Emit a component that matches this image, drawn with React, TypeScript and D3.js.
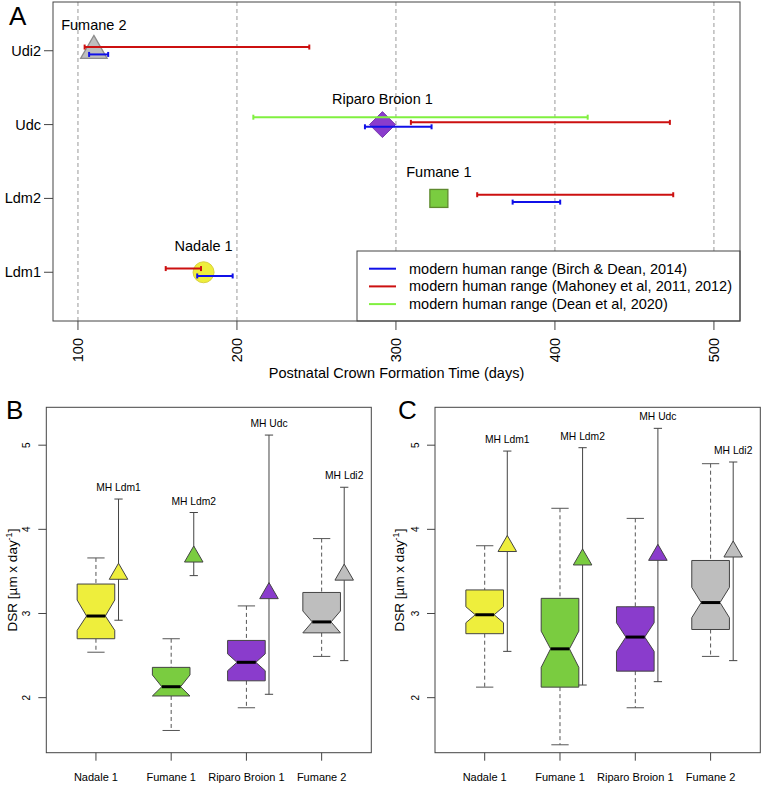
import React from "react";
import * as d3 from "d3";

// ---------- Panel A data ----------
const rowLabelsA = ["Ldm1", "Ldm2", "Udc", "Udi2"];
const specimensA = ["Nadale 1", "Fumane 1", "Riparo Broion 1", "Fumane 2"];
const crownTimeA = [179, 327, 291.5, 110];
const birchLoA = [175, 373.4, 280.5, 107];
const birchHiA = [197.3, 403.3, 322.4, 119];
const mahoneyLoA = [155.2, 351.1, 309.4, 104.2];
const mahoneyHiA = [177.4, 474.4, 472.3, 245.5];
const deanLoA = [null, null, 210.3, null];
const deanHiA = [null, null, 420.6, null];
const xTicksA = [100, 200, 300, 400, 500];
const legendA = [
  "modern human range (Birch & Dean, 2014)",
  "modern human range (Mahoney et al, 2011, 2012)",
  "modern human range (Dean et al, 2020)",
];

// ---------- Panels B & C data ----------
const groups = ["Nadale 1", "Fumane 1", "Riparo Broion 1", "Fumane 2"];
const mhLabels = ["MH Ldm1", "MH Ldm2", "MH Udc", "MH Ldi2"];
const yTicksBC = [2, 3, 4, 5];

const whiskerLoB = [2.54, 1.61, 1.88, 2.49];
const q1B = [2.7, 2.02, 2.2, 2.77];
const notchLoB = [2.8, 2.02, 2.32, 2.77];
const medB = [2.97, 2.13, 2.42, 2.9];
const notchHiB = [3.16, 2.27, 2.52, 3.03];
const q3B = [3.35, 2.36, 2.68, 3.25];
const whiskerHiB = [3.66, 2.7, 3.09, 3.89];
const mhMinB = [2.92, 3.45, 2.04, 2.44];
const mhMeanB = [3.47, 3.675, 3.24, 3.46];
const mhMaxB = [4.36, 4.2, 5.12, 4.5];

const whiskerLoC = [2.125, 1.44, 1.88, 2.49];
const q1C = [2.76, 2.125, 2.315, 2.81];
const notchLoC = [2.89, 2.36, 2.55, 2.95];
const medC = [2.985, 2.58, 2.72, 3.13];
const notchHiC = [3.08, 2.79, 2.89, 3.31];
const q3C = [3.28, 3.18, 3.08, 3.63];
const whiskerHiC = [3.805, 4.25, 4.13, 4.78];
const mhMinC = [2.55, 2.15, 2.19, 2.44];
const mhMeanC = [3.8, 3.64, 3.695, 3.735];
const mhMaxC = [4.93, 4.97, 5.2, 4.8];

const FONT = "Liberation Sans, Arial, Helvetica, sans-serif";
const fills = ["#EEEE3C", "#7ACC40", "#8A3CCC", "#BEBEBE"];
const markerStrokes = ["#D8D040", "#5E8A2E", "#7A3AB0", "#8C8C8C"];
const srcColors = ["#1010E8", "#CC1010", "#80F040"];
const AXIS = "#444";
const FS_A = 14.5;

function triPath(cx: number, cy: number, r: number) {
  const h = 0.866 * r;
  return `M${cx},${cy - r}L${cx + h},${cy + r / 2}L${cx - h},${cy + r / 2}Z`;
}

function PanelA() {
  const x = d3.scaleLinear().domain([84.3, 516.4]).range([53, 740]);
  const y = d3.scaleLinear().domain([0.34, 4.66]).range([321, 2]);
  const [x0, x1] = x.range();
  const [yb, yt] = y.range();
  const errBar = (lo: number, hi: number, yy: number, color: string, key: string) => (
    <g key={key} stroke={color} strokeWidth={2}>
      <line x1={x(lo)} x2={x(hi)} y1={yy} y2={yy} />
      <line x1={x(lo)} x2={x(lo)} y1={yy - 2.5} y2={yy + 2.5} />
      <line x1={x(hi)} x2={x(hi)} y1={yy - 2.5} y2={yy + 2.5} />
    </g>
  );
  return (
    <g>
      <text x={9} y={25} fontSize={26} fontFamily={FONT}>A</text>
      {xTicksA.map((t) => (
        <line key={"g" + t} x1={x(t)} x2={x(t)} y1={yt} y2={yb} stroke="#999" strokeDasharray="4,3" strokeWidth={1} />
      ))}
      {/* markers */}
      {rowLabelsA.map((r, i) => {
        const cx = x(crownTimeA[i]);
        const cy = y(i + 1);
        let m;
        if (i === 0) m = <circle cx={cx} cy={cy} r={10.5} fill={fills[0]} stroke={markerStrokes[0]} strokeWidth={1} />;
        else if (i === 1) m = <rect x={cx - 9} y={cy - 9} width={18} height={18} fill={fills[1]} stroke={markerStrokes[1]} strokeWidth={1.3} />;
        else if (i === 2) m = <path d={`M${cx},${cy - 13}L${cx + 13},${cy}L${cx},${cy + 13}L${cx - 13},${cy}Z`} fill={fills[2]} stroke={markerStrokes[2]} strokeWidth={1} />;
        else m = <path d={triPath(cx, cy, 15.3)} fill={fills[3]} stroke={markerStrokes[3]} strokeWidth={1.3} />;
        return (
          <g key={r}>
            {m}
            <text x={cx} y={cy - 21} textAnchor="middle" fontSize={FS_A} fontFamily={FONT}>{specimensA[i]}</text>
          </g>
        );
      })}
      {/* ranges */}
      {rowLabelsA.map((r, i) => {
        const off = i === 2 ? 0.03 : 0.05;
        const items = [];
        items.push(errBar(mahoneyLoA[i], mahoneyHiA[i], y(i + 1 + off), srcColors[1], r + "m"));
        items.push(errBar(birchLoA[i], birchHiA[i], y(i + 1 - off), srcColors[0], r + "b"));
        if (deanLoA[i] != null) items.push(errBar(deanLoA[i] as number, deanHiA[i] as number, y(i + 1 + 0.1), srcColors[2], r + "d"));
        return <g key={"rg" + r}>{items}</g>;
      })}
      {/* legend */}
      <rect x={357} y={251} width={x1 - 357} height={yb - 251} fill="#fff" stroke={AXIS} strokeWidth={1} />
      {legendA.map((l, i) => (
        <g key={l}>
          <line x1={369} x2={396} y1={268.7 + i * 17.7} y2={268.7 + i * 17.7} stroke={srcColors[i]} strokeWidth={2} />
          <text x={409} y={268.7 + i * 17.7} dy="0.35em" fontSize={FS_A} fontFamily={FONT}>{l}</text>
        </g>
      ))}
      <rect x={x0} y={yt} width={x1 - x0} height={yb - yt} fill="none" stroke={AXIS} strokeWidth={1} />
      {/* y axis */}
      {rowLabelsA.map((r, i) => (
        <g key={"yt" + r}>
          <line x1={x0 - 9} x2={x0} y1={y(i + 1)} y2={y(i + 1)} stroke={AXIS} />
          <text x={x0 - 12} y={y(i + 1)} dy="0.35em" textAnchor="end" fontSize={FS_A} fontFamily={FONT}>{r}</text>
        </g>
      ))}
      {/* x axis */}
      {xTicksA.map((t) => (
        <g key={"xt" + t}>
          <line x1={x(t)} x2={x(t)} y1={yb} y2={yb + 9} stroke={AXIS} />
          <text transform={`translate(${x(t) + 5},${yb + 17}) rotate(-90)`} textAnchor="end" fontSize={FS_A} fontFamily={FONT}>{t}</text>
        </g>
      ))}
      <text x={(x0 + x1) / 2} y={378} textAnchor="middle" fontSize={FS_A} fontFamily={FONT}>Postnatal Crown Formation Time (days)</text>
    </g>
  );
}

type BoxData = {
  wlo: number[]; q1: number[]; nlo: number[]; med: number[]; nhi: number[]; q3: number[]; whi: number[];
  mmin: number[]; mmean: number[]; mmax: number[];
};

function PanelBox({ x0, x1, letter, letterX, titleX, d }: { x0: number; x1: number; letter: string; letterX: number; titleX: number; d: BoxData }) {
  const x = d3.scaleLinear().domain([0.34, 4.66]).range([x0, x1]);
  const y = d3.scaleLinear().domain([1.346, 5.45]).range([752.7, 407.3]);
  const [yb, yt] = y.range();
  const bw = 0.25, cw = 0.115, mhOff = 0.3, mcw = 0.055;
  return (
    <g>
      <text x={letterX} y={419} fontSize={26} fontFamily={FONT}>{letter}</text>
      {groups.map((g, i) => {
        const c = i + 1;
        const L = x(c - bw), R = x(c + bw), Li = x(c - bw / 2), Ri = x(c + bw / 2);
        const poly = [
          [L, y(d.q1[i])], [L, y(d.nlo[i])], [Li, y(d.med[i])], [L, y(d.nhi[i])], [L, y(d.q3[i])],
          [R, y(d.q3[i])], [R, y(d.nhi[i])], [Ri, y(d.med[i])], [R, y(d.nlo[i])], [R, y(d.q1[i])],
        ];
        const mx = x(c + mhOff);
        return (
          <g key={g}>
            <line x1={x(c)} x2={x(c)} y1={y(d.whi[i])} y2={y(d.q3[i])} stroke="#555" strokeDasharray="4,3" />
            <line x1={x(c)} x2={x(c)} y1={y(d.q1[i])} y2={y(d.wlo[i])} stroke="#555" strokeDasharray="4,3" />
            <line x1={x(c - cw)} x2={x(c + cw)} y1={y(d.whi[i])} y2={y(d.whi[i])} stroke="#555" />
            <line x1={x(c - cw)} x2={x(c + cw)} y1={y(d.wlo[i])} y2={y(d.wlo[i])} stroke="#555" />
            <polygon points={poly.map((p) => p.join(",")).join(" ")} fill={fills[i]} stroke="#444" strokeWidth={1} />
            <line x1={Li} x2={Ri} y1={y(d.med[i])} y2={y(d.med[i])} stroke="#000" strokeWidth={3} />
            <line x1={mx} x2={mx} y1={y(d.mmax[i])} y2={y(d.mmin[i])} stroke="#444" strokeWidth={1} />
            <line x1={x(c + mhOff - mcw)} x2={x(c + mhOff + mcw)} y1={y(d.mmax[i])} y2={y(d.mmax[i])} stroke="#444" />
            <line x1={x(c + mhOff - mcw)} x2={x(c + mhOff + mcw)} y1={y(d.mmin[i])} y2={y(d.mmin[i])} stroke="#444" />
            <path d={triPath(mx, y(d.mmean[i]), 10.7)} fill={fills[i]} stroke="#444" strokeWidth={1} />
            <text x={mx} y={y(d.mmax[i]) - 8} textAnchor="middle" fontSize={10.3} fontFamily={FONT}>{mhLabels[i]}</text>
            <line x1={x(c)} x2={x(c)} y1={yb} y2={yb + 8} stroke={AXIS} />
            <text x={x(c)} y={781} textAnchor="middle" fontSize={11} fontFamily={FONT}>{g}</text>
          </g>
        );
      })}
      <rect x={x0} y={yt} width={x1 - x0} height={yb - yt} fill="none" stroke={AXIS} strokeWidth={1} />
      {yTicksBC.map((t) => (
        <g key={t}>
          <line x1={x0 - 8} x2={x0} y1={y(t)} y2={y(t)} stroke={AXIS} />
          <text transform={`translate(${x0 - 16},${y(t)}) rotate(-90)`} textAnchor="middle" fontSize={10} fontFamily={FONT}>{t}</text>
        </g>
      ))}
      <text transform={`translate(${titleX},580) rotate(-90)`} textAnchor="middle" fontSize={13.5} fontFamily={FONT}>
        <tspan>DSR [µm x day</tspan>
        <tspan dy={-5} fontSize={9}>-1</tspan>
        <tspan dy={5}>]</tspan>
      </text>
    </g>
  );
}

export default function App() {
  const dB: BoxData = { wlo: whiskerLoB, q1: q1B, nlo: notchLoB, med: medB, nhi: notchHiB, q3: q3B, whi: whiskerHiB, mmin: mhMinB, mmean: mhMeanB, mmax: mhMaxB };
  const dC: BoxData = { wlo: whiskerLoC, q1: q1C, nlo: notchLoC, med: medC, nhi: notchHiC, q3: q3C, whi: whiskerHiC, mmin: mhMinC, mmean: mhMeanC, mmax: mhMaxC };
  return (
    <svg width={762} height={785} style={{ position: "absolute", left: 0, top: 0, background: "#fff" }}>
      <rect width={762} height={785} fill="#fff" />
      <PanelA />
      <PanelBox x0={46.3} x1={371.3} letter="B" letterX={6} titleX={17} d={dB} />
      <PanelBox x0={435} x1={760.3} letter="C" letterX={398} titleX={404} d={dC} />
    </svg>
  );
}
